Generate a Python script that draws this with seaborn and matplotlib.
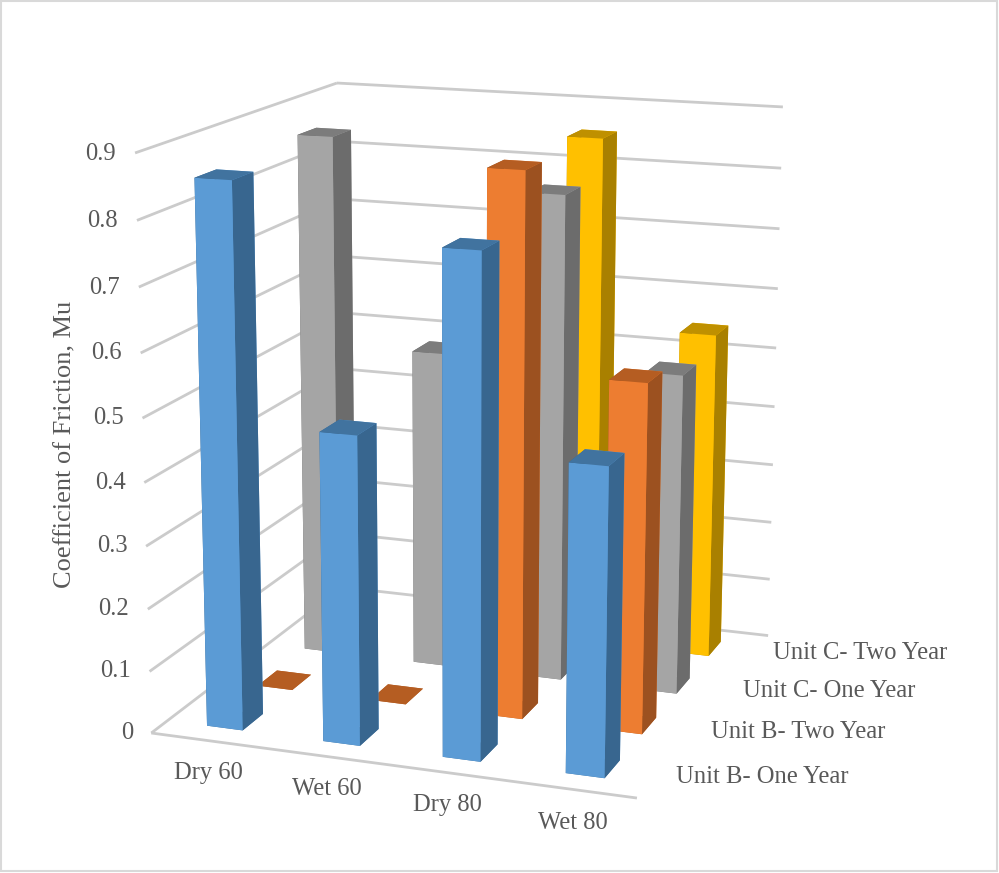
import numpy as np
import matplotlib
matplotlib.use("Agg")
import matplotlib.pyplot as plt
from matplotlib.patches import Rectangle
from mpl_toolkits.mplot3d.art3d import Line3DCollection
import seaborn as sns

categories = ["Dry 60", "Wet 60", "Dry 80", "Wet 80"]
series_names = ["Unit B- One Year", "Unit B- Two Year", "Unit C- One Year", "Unit C- Two Year"]
unit_b_one_year = [0.858, 0.488, 0.78, 0.478]
unit_b_two_year = [0.0, 0.0, 0.865, 0.556]
unit_c_one_year = [0.864, 0.525, 0.795, 0.523]
unit_c_two_year = [None, None, 0.854, 0.545]
z_ticks = [0.0, 0.1, 0.2, 0.3, 0.4, 0.5, 0.6, 0.7, 0.8, 0.9]

# front, side and top shades for each series
front_colors = ["#5B9BD5", "#ED7D31", "#A5A5A5", "#FFC000"]
side_colors = ["#38668F", "#9C5120", "#6C6C6C", "#A98000"]
top_colors = ["#41739F", "#B55D22", "#7C7C7C", "#BF9000"]

TEXT = "#595959"
GRID = "#cbcbcb"
BAR_W = 0.31
BAR_D = 0.40

sns.set_theme(style="white")
plt.rcParams["font.family"] = ["Liberation Serif", "DejaVu Serif"]

W, H = 999, 873
fig = plt.figure(figsize=(W / 100, H / 100), dpi=100, facecolor="white")
fig.add_artist(Rectangle((1 / W, 2 / H), (W - 3) / W, (H - 3) / H, transform=fig.transFigure,
                         fill=False, edgecolor="#d9d9d9", linewidth=1.5))
ax = fig.add_axes([0, 0, 1, 1], projection="3d", computed_zorder=False)
ax.set_axis_off()


def solve_camera(world, image):
    """Direct linear solve for the 3x4 perspective camera of the box."""
    rows, rhs = [], []
    for (x, y, z), (u, v) in zip(world, image):
        rows.append([x, y, z, 1, 0, 0, 0, 0, -u * x, -u * y, -u * z])
        rows.append([0, 0, 0, 0, x, y, z, 1, -v * x, -v * y, -v * z])
        rhs += [u, v]
    p = np.linalg.lstsq(np.array(rows, float), np.array(rhs, float), rcond=None)[0]
    return np.append(p, 1.0).reshape(3, 4)


# Box edges: x runs over categories, y over series, z over the value axis
left_edge_px = [(152, 733), (149, 672), (147, 609), (146, 546), (144, 482),
                (143, 418), (141, 353), (139, 288), (138, 220), (134, 153)]
back_edge_px = [(768, 636), (770, 579), (771, 521), (773, 465), (775, 407),
                (776, 348), (778, 290), (779, 229), (781, 168), (783, 106)]
world_pts = [(0, 0, z) for z in z_ticks] + [(4, 4, z) for z in z_ticks] + [(4, 0, 0), (0, 4, 0.9)]
image_pts = left_edge_px + back_edge_px + [(637, 798), (337, 83)]
camera = solve_camera(world_pts, image_pts)

# Perspective projection into pixel units; the third row only orders faces by depth
projection = np.vstack([camera[0], camera[1], [0, 0, 0, -1], camera[2]])
ax.get_proj = lambda: projection
side = (W - H) / 2
ax.viewLim.intervalx = (side, W - side)
ax.viewLim.intervaly = (H, 0)


def label_at(x, y, z, text, dx=0.0, dy=0.0, **kwargs):
    """Place a text at the screen position of a point in the box, nudged in pixels."""
    u, v, w = camera @ np.array([x, y, z, 1.0])
    fig.text((u / w + dx) / W, 1 - (v / w + dy) / H, text, color=TEXT, **kwargs)


# Gridlines on the left and back walls, and the front floor edge
segments = []
for z in z_ticks:
    segments.append([(0, 0, z), (0, 4, z)])
    segments.append([(0, 4, z), (4, 4, z)])
segments.append([(0, 0, 0), (4, 0, 0)])
ax.add_collection3d(Line3DCollection(segments, colors=GRID, linewidths=2.0, zorder=1))

# Bars, painted from the back row forward
all_series = [unit_b_one_year, unit_b_two_year, unit_c_one_year, unit_c_two_year]
for s in range(3, -1, -1):
    for c, value in enumerate(all_series[s]):
        if value is None:
            continue
        # bar3d face order: bottom, top, front, back, left, right
        faces = [top_colors[s], top_colors[s], front_colors[s], front_colors[s], side_colors[s], side_colors[s]]
        ax.bar3d(c + 0.5 - BAR_W / 2, s + 0.5 - BAR_D / 2, 0, BAR_W, BAR_D, value,
                 color=faces, shade=False, linewidth=0, zorder=10 + (3 - s) * 10 + c)

# Axis text
for z in z_ticks:
    label_at(-0.16, 0, z, "0" if z == 0 else f"{z:.1f}", dy=2, ha="right", va="center", fontsize=17.7)
for c, name in enumerate(categories):
    label_at(c + 0.47, -0.33, 0, name, dx=21 - 1.3 * c, dy=18, ha="center", va="center", fontsize=17.7)
for s, name in enumerate(series_names):
    label_at(4.18, s + 0.35, 0, name, dx=3, dy=-8, ha="left", va="center", fontsize=17.7)
fig.text(65 / W, 1 - 444 / H, "Coefficient of Friction, Mu", rotation=90, ha="center", va="center",
         color=TEXT, fontsize=19)

fig.savefig("out.png", dpi=100)
